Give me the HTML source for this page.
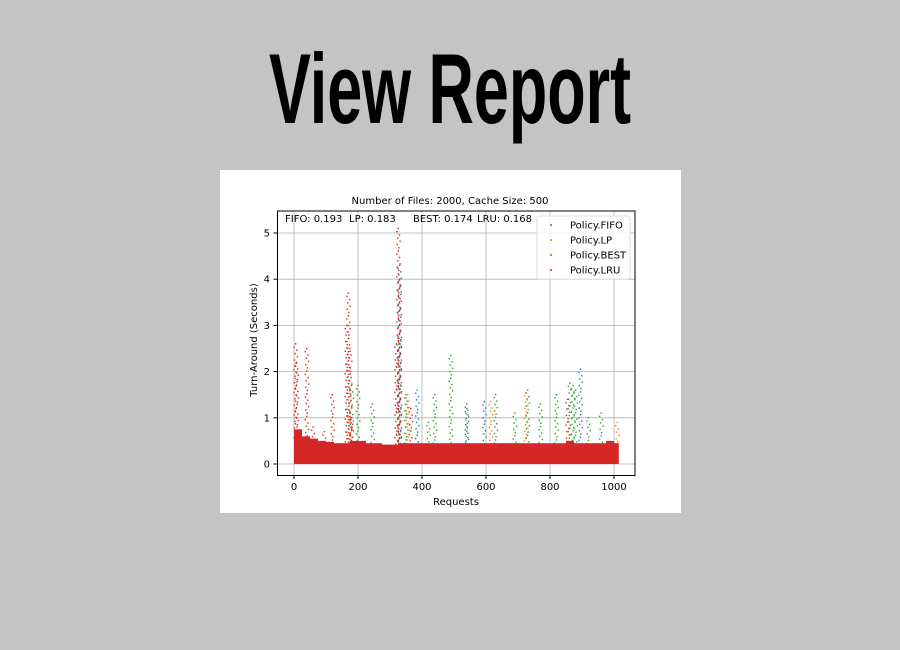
<!DOCTYPE html>
<html><head><meta charset="utf-8"><style>
html,body{margin:0;padding:0;background:#c4c4c4;width:900px;height:650px;overflow:hidden}
svg{display:block;font-family:"DejaVu Sans","Liberation Sans",sans-serif}
</style></head><body>
<svg id="s" width="900" height="650" viewBox="0 0 900 650">
<rect width="900" height="650" fill="#c4c4c4"/>
<text x="450" y="123" text-anchor="middle" font-family="Liberation Sans, sans-serif" font-weight="bold" font-size="99" transform="translate(450 0) scale(0.635 1) translate(-450 0)" fill="#000">View Report</text>
<rect x="220" y="170" width="461" height="343" fill="#fff"/>
<text x="450" y="204" text-anchor="middle" font-size="10" fill="#000">Number of Files: 2000, Cache Size: 500</text>
<g id="grid"></g>
<g id="marks"></g>
<rect x="277.5" y="211" width="357.5" height="264.5" fill="none" stroke="#000" stroke-width="1"/>
<g id="ticks" font-size="10" fill="#000"></g>
<text x="285" y="222" font-size="10" fill="#000">FIFO: 0.193</text>
<text x="349" y="222" font-size="10" fill="#000">LP: 0.183</text>
<text x="413" y="222" font-size="10" fill="#000">BEST: 0.174</text>
<text x="477" y="222" font-size="10" fill="#000">LRU: 0.168</text>
<text x="456" y="505" text-anchor="middle" font-size="10">Requests</text>
<text transform="translate(257 340) rotate(-90)" text-anchor="middle" font-size="10">Turn-Around (Seconds)</text>
<g>
<rect x="537" y="216" width="93" height="63" fill="#fff" fill-opacity="0.85" stroke="#ddd" rx="2"/>
<g><circle cx="551" cy="225" r="1" fill="#1f77b4"/><text x="570" y="228.5" font-size="10">Policy.FIFO</text></g>
<g><circle cx="551" cy="240" r="1" fill="#ff7f0e"/><text x="570" y="243.5" font-size="10">Policy.LP</text></g>
<g><circle cx="551" cy="255" r="1" fill="#2ca02c"/><text x="570" y="258.5" font-size="10">Policy.BEST</text></g>
<g><circle cx="551" cy="270" r="1" fill="#d62728"/><text x="570" y="273.5" font-size="10">Policy.LRU</text></g>
</g>
</svg>
<script>
const xTicks=[0,200,400,600,800,1000];
const yTicks=[0,1,2,3,4,5];
// LRU dense band: top value per 25-request bin
const bandTop=[0.75,0.6,0.55,0.5,0.48,0.45,0.45,0.5,0.5,0.45,0.45,0.42,0.42,0.45,0.45,0.45,0.45,0.45,0.45,0.45,0.45,0.45,0.45,0.45,0.45,0.45,0.45,0.45,0.45,0.45,0.45,0.45,0.45,0.45,0.5,0.45,0.45,0.45,0.45,0.5,0.45];
// spikes: request positions and peak values
const fifoX=[385,595,895,540,330];
const fifoY=[1.6,1.35,2.05,1.2,4.3];
const lpX=[175,615,725,1010,355];
const lpY=[1.1,1.35,1.55,0.9,1.5];
const bestX=[180,200,245,330,350,440,490,540,630,730,770,820,862,872,880,920,960,420,690];
const bestY=[1.7,1.7,1.3,2.8,1.5,1.5,2.35,1.3,1.5,1.6,1.3,1.5,1.75,1.7,1.6,1.0,1.1,0.9,1.1];
const lruX=[5,8,40,120,165,170,175,320,326,330,365,855,180,60,95];
const lruY=[2.6,2.2,2.5,1.5,3.0,3.7,2.5,2.6,5.1,4.0,1.2,1.4,1.0,0.8,0.7];
const X0=294,XS=0.32,Y0=464,YS=46.2;
const sx=v=>X0+v*XS, sy=v=>Y0-v*YS;
const NS='http://www.w3.org/2000/svg';
const g=document.getElementById('grid'),m=document.getElementById('marks'),t=document.getElementById('ticks');
function mk(tag,at,p){const e=document.createElementNS(NS,tag);for(const k in at)e.setAttribute(k,at[k]);p.appendChild(e);return e;}
xTicks.forEach(v=>{
 const l=mk('line',{x1:sx(v),x2:sx(v),y1:211,y2:475,stroke:'#b0b0b0','stroke-width':0.8},g);
 
 
 const k=mk('line',{x1:sx(v),x2:sx(v),y1:475,y2:479,stroke:'#000'},t);
 
 
 const tx=mk('text',{x:sx(v),y:490,'text-anchor':'middle'},t);tx.textContent=v;
 
 
});
yTicks.forEach(v=>{
 const l=mk('line',{x1:277.5,x2:635,y1:sy(v),y2:sy(v),stroke:'#b0b0b0','stroke-width':0.8},g);
 
 
 const k=mk('line',{x1:273.5,x2:277.5,y1:sy(v),y2:sy(v),stroke:'#000'},t);
 
 
 const tx=mk('text',{x:270,y:sy(v)+3.5,'text-anchor':'end'},t);tx.textContent=v;
 
 
});
const jit=[0,-1.5,1.2,-0.6,1.8,-1.1,0.5];
function spikes(xs,ys,col,name){
 xs.forEach((x,i)=>{
  const top=ys[i];let j=0;
  for(let v=top;v>=0.4;v-=0.07){
   const c=mk('rect',{x:sx(x)-0.7+jit[j%jit.length],y:sy(v)-0.7,width:1.4,height:1.4,fill:col},m);
   
   
   j++;
  }
 });
}
spikes(bestX,bestY,'#2ca02c','best');
spikes(fifoX,fifoY,'#1f77b4','fifo');
spikes(lpX,lpY,'#ff7f0e','lp');
bandTop.forEach((v,i)=>{
 const x1=sx(i*25),x2=sx(Math.min(i*25+25,1015));
 const r=mk('rect',{x:x1,y:sy(v),width:x2-x1,height:sy(0.02)-sy(v)+1,fill:'#d62728'},m);
 
 
});
spikes(lruX,lruY,'#d62728','lru');
</script>
</body></html>
